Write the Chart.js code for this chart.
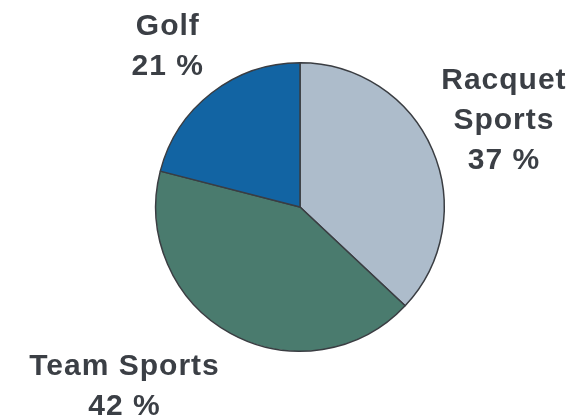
<!DOCTYPE html>
<html>
<head>
<meta charset="utf-8">
<script src="https://cdn.jsdelivr.net/npm/chart.js@4"></script>
<style>
  html, body { margin: 0; padding: 0; background: #fff; }
  #wrap { width: 586px; height: 418px; }
</style>
</head>
<body>
<div id="wrap"><canvas id="sportsPie" width="586" height="418"></canvas></div>
<script>
const categories = ['Racquet Sports', 'Team Sports', 'Golf'];
const shares = [37, 42, 21];
// label text broken into lines, percent line is added from shares
const labelLines = [['Racquet', 'Sports'], ['Team Sports'], ['Golf']];
const sliceColors = ['#adbccb', '#4a7b6e', '#1264a3'];

// where each label block sits, in units of the pie radius from its centre
const labelOffsets = [[1.41, -0.62], [-1.22, 1.225], [-0.92, -1.13]];

const pieLabels = {
  id: 'pieLabels',
  afterDatasetsDraw(chart) {
    const ctx = chart.ctx;
    const meta = chart.getDatasetMeta(0);
    ctx.save();
    ctx.font = 'bold 30px "Liberation Sans", Arial, sans-serif';
    ctx.fillStyle = '#3b3f45';
    ctx.textAlign = 'center';
    ctx.textBaseline = 'alphabetic';
    ctx.letterSpacing = '1px';
    const lineH = 40;
    meta.data.forEach((arc, i) => {
      const lines = labelLines[i].concat([shares[i] + ' %']);
      const r = arc.outerRadius;
      const cx = arc.x + labelOffsets[i][0] * r;
      const cy = arc.y + labelOffsets[i][1] * r;
      const top = cy - (lines.length - 1) * lineH / 2 + 11;
      lines.forEach((t, j) => ctx.fillText(t, cx + 0.5, top + j * lineH));
    });
    ctx.restore();
  }
};

new Chart(document.getElementById('sportsPie').getContext('2d'), {
  type: 'pie',
  data: {
    labels: categories,
    datasets: [{
      data: shares,
      backgroundColor: sliceColors,
      borderColor: '#3a3d42',
      borderWidth: 1.5
    }]
  },
  options: {
    responsive: false,
    animation: false,
    layout: { padding: { top: 62, bottom: 66, left: 14, right: 0 } },
    plugins: {
      legend: { display: false },
      tooltip: { enabled: false }
    }
  },
  plugins: [pieLabels]
});
</script>
</body>
</html>
